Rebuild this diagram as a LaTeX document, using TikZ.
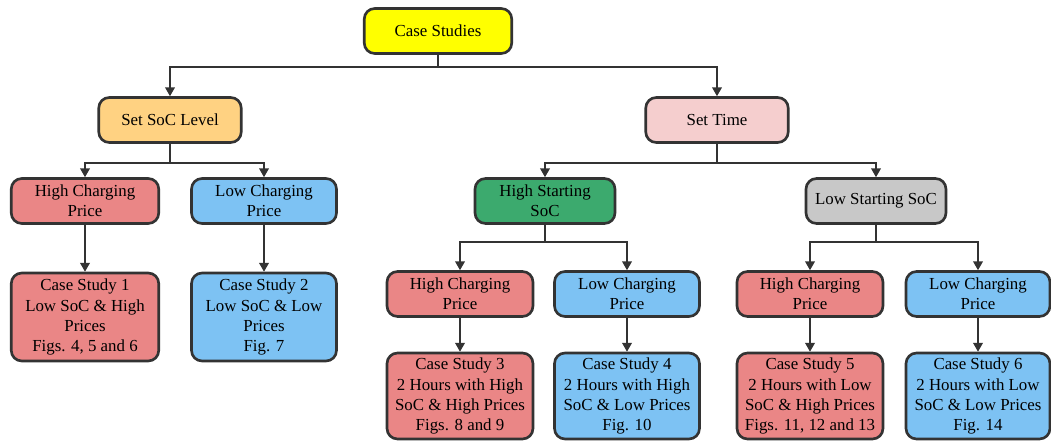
\documentclass[tikz,border=0pt]{standalone}
\usepackage{fontspec}
\setmainfont{Liberation Serif}
\usetikzlibrary{arrows.meta}

\definecolor{boxline}{HTML}{333333}
\definecolor{caseyellow}{HTML}{FFFF00}
\definecolor{socorange}{HTML}{FFD282}
\definecolor{timepink}{HTML}{F5CECE}
\definecolor{highred}{HTML}{EA8686}
\definecolor{lowblue}{HTML}{7DC2F3}
\definecolor{startgreen}{HTML}{3CAA6E}
\definecolor{startgray}{HTML}{C8C8C8}

\tikzset{
  box/.style={draw=boxline, line width=1.5pt, rounded corners=6pt, align=center,
    inner sep=0pt, minimum height=0.9cm, font=\fontsize{9.6}{11.4}\selectfont},
  arr/.style={-{Triangle[length=5pt,width=5.5pt]}, line width=0.8pt, draw=boxline},
  link/.style={line width=0.8pt, draw=boxline},
}

\begin{document}
\begin{tikzpicture}[x=0.02cm, y=-0.02cm]
  \useasboundingbox (0,0) rectangle (1051,443);

  % top levels
  \node[box, fill=caseyellow, minimum width=2.95cm] (cs) at (438,31) {Case Studies};
  \node[box, fill=socorange, minimum width=2.85cm] (soc) at (170,120) {Set SoC Level};
  \node[box, fill=timepink, minimum width=2.85cm] (time) at (717,120) {Set Time};

  % set soc level branch
  \node[box, fill=highred, minimum width=2.95cm] (hcp1) at (85,201) {High Charging\\Price};
  \node[box, fill=lowblue, minimum width=2.9cm] (lcp1) at (264,201) {Low Charging\\Price};
  \node[box, fill=highred, minimum width=2.95cm, minimum height=1.76cm] (cs1) at (85,317)
    {Case Study 1\\Low SoC \& High\\Prices\\Figs. 4, 5 and 6};
  \node[box, fill=lowblue, minimum width=2.9cm, minimum height=1.76cm] (cs2) at (264,317)
    {Case Study 2\\Low SoC \& Low\\Prices\\Fig. 7};

  % set time branch
  \node[box, fill=startgreen, minimum width=2.8cm] (hss) at (545,201) {High Starting\\SoC};
  \node[box, fill=startgray, minimum width=2.8cm] (lss) at (876,201) {Low Starting SoC};
  \node[box, fill=highred, minimum width=2.92cm] (hcp2) at (460,294) {High Charging\\Price};
  \node[box, fill=lowblue, minimum width=2.9cm] (lcp2) at (627,294) {Low Charging\\Price};
  \node[box, fill=highred, minimum width=2.92cm] (hcp3) at (810,294) {High Charging\\Price};
  \node[box, fill=lowblue, minimum width=2.88cm] (lcp3) at (978,294) {Low Charging\\Price};
  \node[box, fill=highred, minimum width=2.92cm, minimum height=1.72cm] (cs3) at (460,396)
    {Case Study 3\\2 Hours with High\\SoC \& High Prices\\Figs. 8 and 9};
  \node[box, fill=lowblue, minimum width=2.9cm, minimum height=1.72cm] (cs4) at (627,396)
    {Case Study 4\\2 Hours with High\\SoC \& Low Prices\\Fig. 10};
  \node[box, fill=highred, minimum width=2.92cm, minimum height=1.72cm] (cs5) at (810,396)
    {Case Study 5\\2 Hours with Low\\SoC \& High Prices\\Figs. 11, 12 and 13};
  \node[box, fill=lowblue, minimum width=2.88cm, minimum height=1.72cm] (cs6) at (978,396)
    {Case Study 6\\2 Hours with Low\\SoC \& Low Prices\\Fig. 14};

  % junctions
  \coordinate (j0) at (438,67);
  \coordinate (j1) at (170,163);
  \coordinate (j2) at (717,163);
  \coordinate (j3) at (545,242);
  \coordinate (j4) at (876,242);

  % connectors
  \draw[link] (cs) -- (j0);
  \draw[arr] (j0) -| (soc);
  \draw[arr] (j0) -| (time);
  \draw[link] (soc) -- (j1);
  \draw[arr] (j1) -| (hcp1);
  \draw[arr] (j1) -| (lcp1);
  \draw[arr] (hcp1) -- (cs1);
  \draw[arr] (lcp1) -- (cs2);
  \draw[link] (time) -- (j2);
  \draw[arr] (j2) -| (hss);
  \draw[arr] (j2) -| (lss);
  \draw[link] (hss) -- (j3);
  \draw[arr] (j3) -| (hcp2);
  \draw[arr] (j3) -| (lcp2);
  \draw[link] (lss) -- (j4);
  \draw[arr] (j4) -| (hcp3);
  \draw[arr] (j4) -| (lcp3);
  \draw[arr] (hcp2) -- (cs3);
  \draw[arr] (lcp2) -- (cs4);
  \draw[arr] (hcp3) -- (cs5);
  \draw[arr] (lcp3) -- (cs6);
\end{tikzpicture}
\end{document}
